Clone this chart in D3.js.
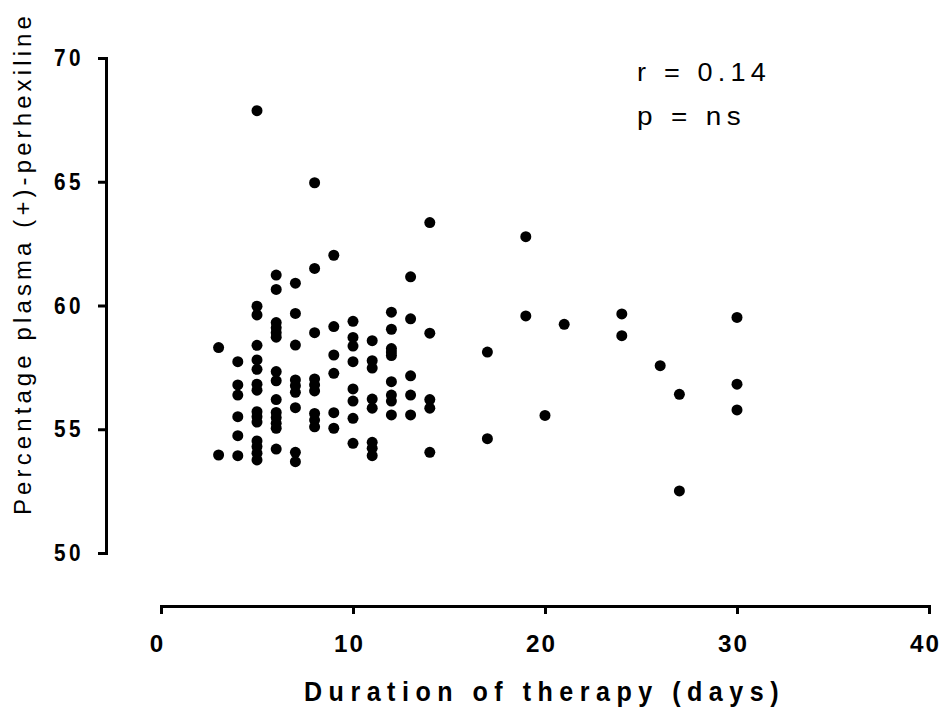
<!DOCTYPE html>
<html>
<head>
<meta charset="utf-8">
<script src="https://cdn.jsdelivr.net/npm/d3@7"></script>
<style>
  body { margin: 0; background: #fff; }
  svg { display: block; font-family: "Liberation Sans", Arial, sans-serif; }
</style>
</head>
<body>
<div id="chart-area"></div>
<script>
// duration of therapy (days) and the % plasma (+)-perhexiline readings taken on that day
const days = [3, 4, 5, 6, 7, 8, 9, 10, 11, 12, 13, 14, 17, 19, 20, 21, 24, 26, 27, 30]
const pctByDay = [
  [58.3, 53.96],
  [57.73, 56.79, 56.38, 55.51, 54.74, 53.93],
  [67.87, 59.97, 59.62, 58.39, 57.8, 57.42, 56.82, 56.58, 55.71, 55.51, 55.29, 54.53, 54.3, 54.03, 53.76],
  [61.23, 60.65, 59.31, 59.1, 58.9, 58.72, 57.33, 56.96, 56.2, 55.68, 55.47, 55.24, 55.04, 54.2],
  [60.9, 59.68, 58.4, 56.99, 56.76, 56.49, 55.87, 54.07, 53.69],
  [64.96, 61.5, 58.9, 57.03, 56.79, 56.55, 55.64, 55.37, 55.1],
  [62.03, 59.15, 58.0, 57.26, 55.67, 55.04],
  [59.36, 58.71, 58.36, 57.73, 56.63, 56.14, 55.44, 54.43],
  [58.58, 57.77, 57.47, 56.22, 55.85, 54.47, 54.23, 53.93],
  [59.73, 59.04, 58.26, 58.12, 57.98, 56.92, 56.38, 56.14, 55.58],
  [61.16, 59.46, 57.16, 56.38, 55.58],
  [63.35, 58.88, 56.2, 55.85, 54.07],
  [58.12, 54.62],
  [62.78, 59.58],
  [55.56],
  [59.24],
  [59.66, 58.78],
  [57.57],
  [56.41, 52.51],
  [59.52, 56.82, 55.78]
]

const xTicks = [0, 10, 20, 30, 40]
const yTicks = [50, 55, 60, 65, 70]
const statLines = ["r = 0.14", "p = ns"]

const W = 944
const H = 707

const svg = d3.select("#chart-area")
  .append("svg")
  .attr("width", W)
  .attr("height", H)

const x = d3.scaleLinear().domain([0, 40]).range([161, 929])
const y = d3.scaleLinear().domain([50, 70]).range([553, 58])

// y axis
const yAxisGroup = svg.append("g")
  .attr("transform", "translate(106,0)")
  .call(d3.axisLeft(y).tickValues(yTicks).tickSize(8).tickSizeOuter(0).tickPadding(14))

yAxisGroup.selectAll("text")
  .attr("font-size", "24px")
  .attr("font-weight", "bold")
  .attr("letter-spacing", "4px")
  .attr("textLength", d => String(d).length * 15)
  .attr("lengthAdjust", "spacingAndGlyphs")
  .attr("fill", "#000")

// x axis
const xAxisGroup = svg.append("g")
  .attr("transform", "translate(0,606)")
  .call(d3.axisBottom(x).tickValues(xTicks).tickSize(8).tickSizeOuter(0).tickPadding(21))

xAxisGroup.selectAll("text")
  .attr("font-size", "24px")
  .attr("font-weight", "bold")
  .attr("letter-spacing", "2px")
  .attr("textLength", d => String(d).length * 15.5)
  .attr("lengthAdjust", "spacingAndGlyphs")
  .attr("dx", "-4px")
  .attr("fill", "#000")

svg.selectAll(".domain, .tick line")
  .attr("stroke", "#000")
  .attr("stroke-width", 3)
svg.selectAll(".domain").attr("stroke-linecap", "square")

// axis titles
svg.append("text")
  .attr("x", 304)
  .attr("y", 701)
  .attr("font-size", "27px")
  .attr("font-weight", "bold")
  .attr("letter-spacing", "7px")
  .attr("textLength", 481)
  .attr("lengthAdjust", "spacingAndGlyphs")
  .text("Duration of therapy (days)")

svg.append("text")
  .attr("transform", "translate(31,515) rotate(-90)")
  .attr("font-size", "23px")
  .attr("letter-spacing", "4px")
  .attr("textLength", 503)
  .attr("lengthAdjust", "spacingAndGlyphs")
  .text("Percentage plasma (+)-perhexiline")

// r / p annotation
svg.selectAll(".stat")
  .data(statLines)
  .enter().append("text")
  .attr("class", "stat")
  .attr("x", 637)
  .attr("y", (d, i) => 81 + i * 44)
  .attr("font-size", "26px")
  .attr("letter-spacing", "5px")
  .attr("textLength", (d, i) => i === 0 ? 134 : 109)
  .attr("lengthAdjust", "spacingAndGlyphs")
  .text(d => d)

// points
const points = days.flatMap((d, i) => pctByDay[i].map(v => [d, v]))

svg.append("g")
  .selectAll("circle")
  .data(points)
  .enter().append("circle")
  .attr("cx", d => x(d[0]))
  .attr("cy", d => y(d[1]))
  .attr("r", 5.5)
  .attr("fill", "#000")
</script>
</body>
</html>
